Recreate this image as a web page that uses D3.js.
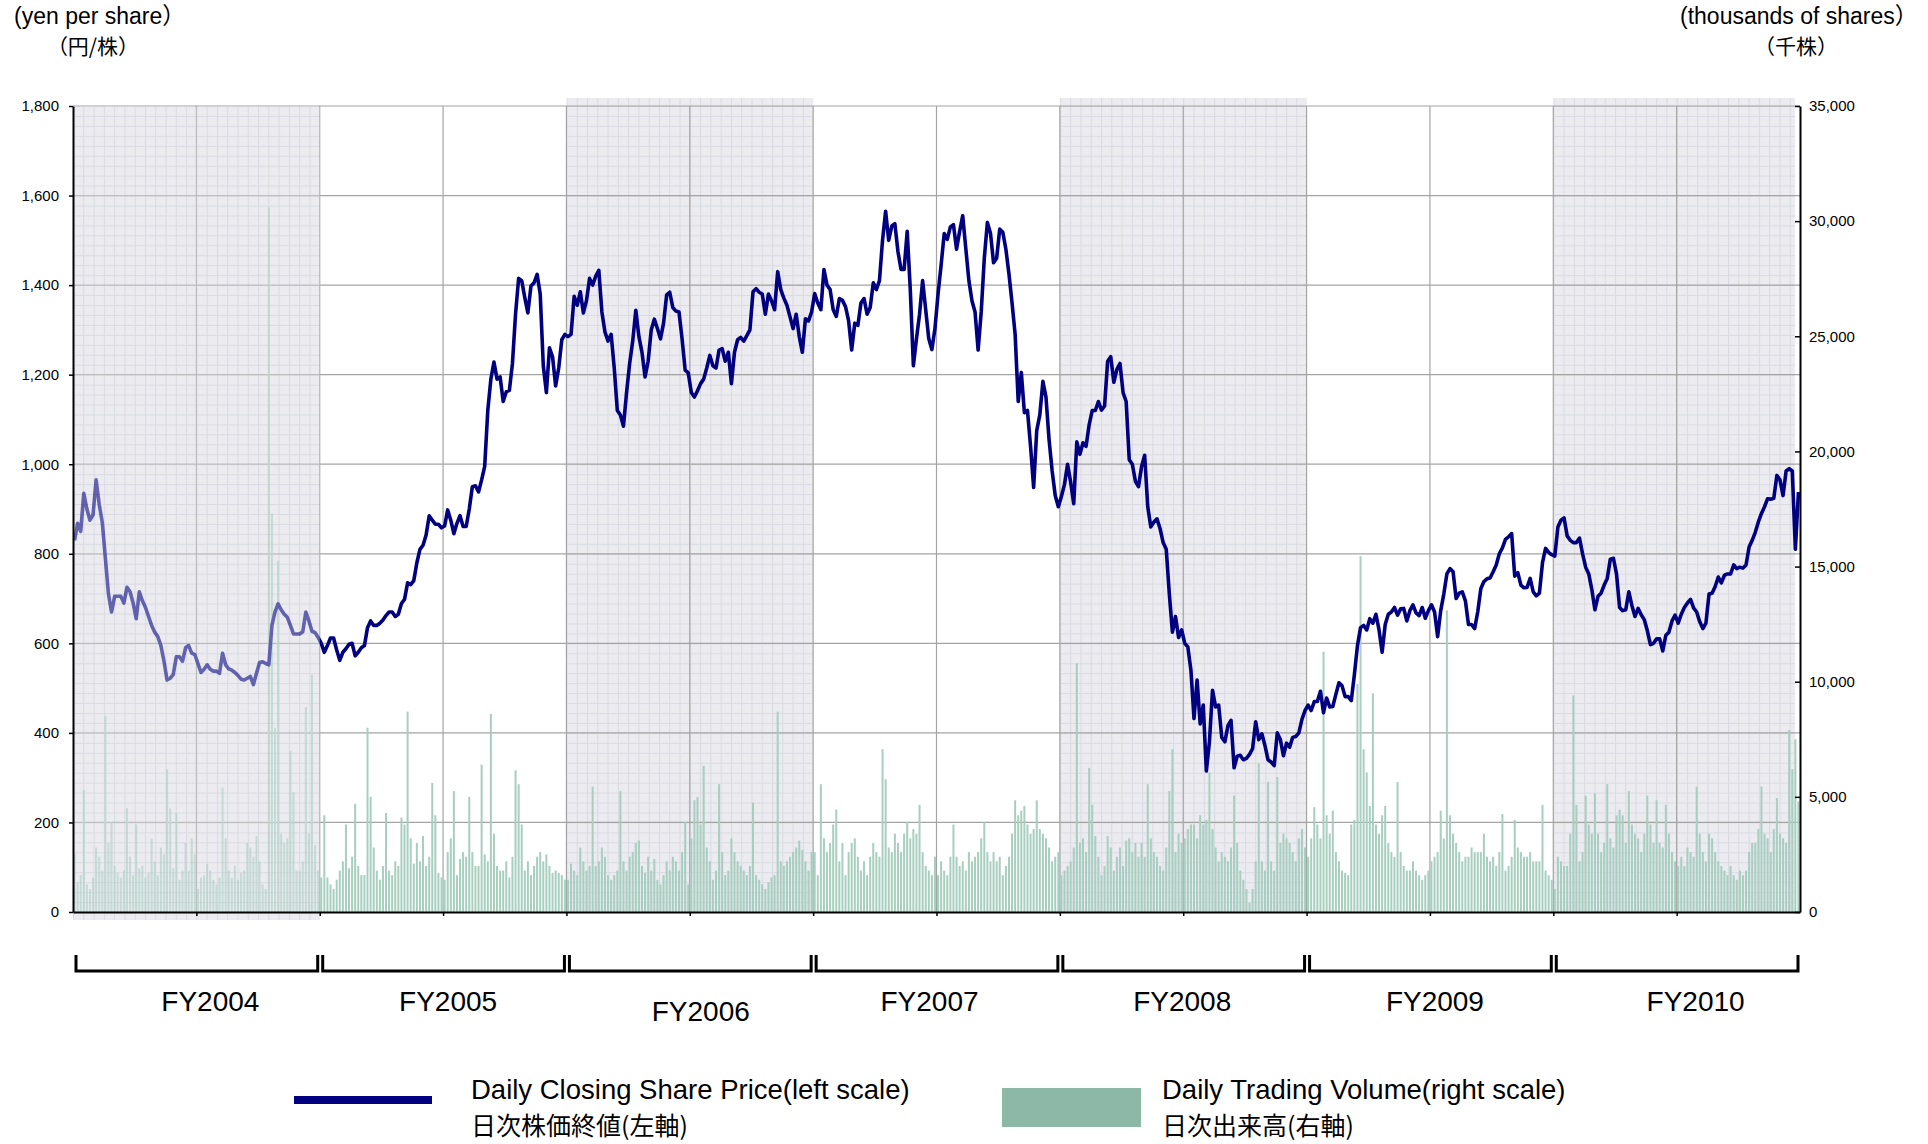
<!DOCTYPE html>
<html>
<head>
<meta charset="utf-8">
<script src="https://cdn.jsdelivr.net/npm/d3@7"></script>
<style>
body{margin:0;background:#fff;}
svg text{font-family:"Liberation Sans",Arial,"Noto Sans CJK JP",sans-serif;fill:#000;}
svg text.jp{font-family:"Noto Sans CJK JP","Liberation Sans",sans-serif;}
</style>
</head>
<body>
<svg id="chart" width="1928" height="1144"></svg>
<script>
// fiscal years on the x axis (April - March)
var fiscalYears = [2004, 2005, 2006, 2007, 2008, 2009, 2010];
var fyLabels = ["FY2004", "FY2005", "FY2006", "FY2007", "FY2008", "FY2009", "FY2010"];
var shadedYears = [2004, 2006, 2008, 2010];
var priceTicks = [0, 200, 400, 600, 800, 1000, 1200, 1400, 1600, 1800];
var volumeTicks = [0, 5000, 10000, 15000, 20000, 25000, 30000, 35000];

// closing price (yen), 80 readings per fiscal year
var price2004 = [830,868,850,935,900,875,887,965,910,870, 790,710,670,705,705,705,690,725,715,690,
  655,715,695,680,660,640,625,615,595,560, 518,522,530,570,570,560,590,595,578,575,
  555,535,542,552,542,538,538,533,578,552, 543,540,535,528,520,518,522,526,508,533,
  557,559,555,552,640,670,688,675,665,658, 640,621,621,621,626,670,650,627,624,613];
var price2005 = [600,580,595,612,612,585,562,580,588,598, 600,572,580,590,595,635,650,640,640,645,
  652,662,670,670,660,665,689,698,735,731, 740,780,810,819,842,885,875,866,866,858,
  862,898,875,845,868,885,861,861,900,950, 952,938,965,995,1120,1190,1228,1190,1195,1140,
  1162,1165,1225,1335,1415,1410,1372,1338,1398,1405, 1424,1380,1220,1160,1260,1240,1175,1215,1278,1290];
var price2006 = [1285,1290,1375,1355,1385,1338,1365,1415,1400,1420, 1433,1340,1295,1275,1290,1215,1120,1110,1085,1160,
  1225,1275,1344,1285,1250,1195,1230,1300,1324,1303, 1280,1315,1378,1384,1350,1342,1340,1280,1210,1204,
  1160,1150,1164,1180,1190,1215,1243,1220,1215,1255, 1258,1230,1250,1180,1250,1278,1283,1275,1287,1300,
  1385,1392,1384,1380,1335,1380,1365,1345,1430,1390, 1371,1355,1329,1303,1335,1285,1250,1325,1320,1340];
var price2007 = [1381,1360,1345,1435,1400,1390,1345,1330,1370,1366, 1352,1320,1255,1315,1310,1360,1370,1335,1350,1405,
  1390,1410,1500,1565,1500,1532,1537,1475,1435,1435, 1520,1390,1220,1280,1335,1410,1345,1280,1256,1303,
  1380,1445,1515,1502,1530,1535,1480,1520,1555,1482, 1410,1365,1340,1255,1340,1460,1540,1516,1450,1460,
  1525,1518,1480,1425,1360,1290,1140,1205,1115,1120, 1040,948,1075,1110,1185,1150,1055,985,930,905];
var price2008 = [928,955,1000,960,912,1050,1022,1048,1040,1088, 1120,1120,1140,1121,1130,1230,1240,1183,1212,1225,
  1160,1140,1010,1000,962,950,995,1020,905,860, 871,878,856,825,810,710,625,660,613,630,
  600,592,540,432,518,420,462,315,380,495, 458,462,390,380,416,428,322,348,350,340,
  343,352,365,425,385,398,372,340,335,327, 400,385,349,377,368,390,392,400,430,450];
var price2009 = [462,450,470,470,493,445,478,458,459,486, 512,505,481,481,472,530,595,635,640,630,
  655,645,665,630,580,642,665,670,680,663, 677,678,650,673,686,668,662,680,656,673,
  686,670,615,673,710,755,767,760,700,712, 715,695,642,642,633,670,722,738,744,746,
  760,775,800,813,832,838,845,750,758,730, 724,725,745,715,706,712,780,812,803,798];
var price2010 = [795,860,875,880,840,830,825,825,835,800, 770,755,720,675,705,712,730,745,788,790,
  755,680,673,675,715,684,660,678,664,653, 628,597,600,610,610,583,618,625,650,663,
  645,665,680,690,698,679,670,648,633,645, 710,712,727,748,735,752,755,755,775,767,
  770,768,775,815,830,848,871,890,905,923, 922,924,975,965,930,985,990,985,810,938];

// trading volume (thousands of shares), 80 readings per fiscal year
var volume2004 = [2500,1300,1600,5300,1200,1000,1500,2800,2400,1800, 8500,3000,3900,2000,1700,1500,1800,4500,2400,1600,
  3800,1900,2000,1500,1700,3200,2200,1600,2800,2500, 6200,4500,1900,4300,1400,1800,3000,1800,3200,2500,
  1000,1500,1600,2100,1800,1400,1200,1500,5400,3200, 1800,1500,2000,1400,1700,1800,3000,2800,2400,3300,
  2200,1200,1000,30600,17300,8000,15250,3400,3000,3200, 7000,5200,1800,1800,2200,8900,3400,10300,2900,1800];
var volume2005 = [1500,4200,1500,1200,1000,1400,1800,2200,3800,1900, 2400,4700,2000,1600,1600,8000,5000,2800,1800,1400,
  2000,4300,1800,1600,2200,2000,4100,3800,8700,3200, 2100,3000,2200,3300,2000,2400,5600,4200,1700,1500,
  1400,2600,3200,5250,1600,2300,2600,2400,5000,2600, 2000,2000,6400,2500,2200,8600,3400,2000,1800,1800,
  2200,1500,2400,6150,5550,3800,1800,2200,1600,2000, 2400,2600,2200,2500,2000,1700,1800,1700,1600,1400];
var volume2006 = [1400,2100,1800,1600,2800,2200,1800,2000,5450,2000, 2200,2800,2400,1600,1400,1600,1800,5250,2200,1800,
  2400,2600,3000,3100,2000,1700,2400,1800,2300,1400, 1200,1600,2200,1800,2400,2200,1800,2600,3900,1200,
  3200,4850,5000,3800,6350,2800,2200,1400,1800,5550, 2600,1600,1800,3200,2600,2200,2000,1800,1600,2000,
  4750,1600,1400,1200,1000,1300,1500,1600,8700,2200, 2000,2200,2400,2600,2800,3100,2700,2200,1800,2600];
var volume2007 = [2600,1600,5550,3200,2600,3000,3800,4450,2200,3000, 1600,2600,3000,3200,2400,1800,2200,1600,2400,3000,
  2600,2400,7070,5760,2800,2600,3400,3000,2600,3400, 3900,3200,3600,3400,4650,2600,2000,1800,1600,2400,
  1600,2200,1800,1600,2400,3800,2400,2000,2200,1800, 2600,2200,2400,2600,3200,3900,2600,2200,2600,2200,
  2400,1600,2000,2400,3400,4850,4200,4400,4600,3800, 3400,3600,4850,3600,3400,3200,2800,2200,2400,2600];
var volume2008 = [1600,1800,2000,2200,2800,10800,3000,3200,2600,6260, 4650,3300,2400,1600,2000,3300,2800,1800,2400,2800,
  2000,3100,3200,2600,3000,2400,3000,2400,5550,3200, 2600,2400,2000,1800,2800,5250,7070,2600,3400,3000,
  3200,3600,3800,3800,3200,4200,3800,4000,6060,3600, 2800,2200,2600,2400,2200,2800,5050,3000,1800,1400,
  1000,400,1000,2200,6460,2200,1800,5650,2200,1800, 5860,3000,3400,3200,3000,2600,2200,3200,3600,2800];
var volume2009 = [2400,3200,4550,3800,3200,11300,4200,3400,4400,2600, 2200,1800,1700,1600,3800,4000,9900,15450,7070,6060,
  4600,9500,3800,3400,4200,4600,3000,2600,2400,5650, 2600,2000,1800,1800,2200,1800,1600,1400,1600,1800,
  2200,2400,2600,4400,3200,13100,4200,3400,3000,2600, 2200,2400,2400,2800,2600,2600,2600,3400,2400,2200,
  2400,2000,2600,4250,1800,2000,2400,4000,2800,2600, 2400,2400,2600,2200,2200,2200,4650,1800,1600,1400];
var volume2010 = [1000,2400,2200,2000,2000,3400,9400,4650,2200,2600, 5050,3800,3400,5150,3400,2600,3000,5550,3200,2800,
  4200,4450,4200,3000,5250,3800,3400,3200,2600,3400, 5050,3800,3000,4850,3000,2800,4650,3400,2600,2200,
  2000,2400,2000,2800,2600,2400,5450,3400,2600,2200, 3400,3200,2600,2200,2000,1800,1600,2000,1600,1400,
  1800,1600,1800,2600,3000,3000,3600,5450,3400,3200, 2600,3600,4950,3400,3200,3000,7900,6200,7500,4800];

var priceByYear = {2004: price2004, 2005: price2005, 2006: price2006, 2007: price2007,
  2008: price2008, 2009: price2009, 2010: price2010};
var volumeByYear = {2004: volume2004, 2005: volume2005, 2006: volume2006, 2007: volume2007,
  2008: volume2008, 2009: volume2009, 2010: volume2010};

var plot = {left: 73, right: 1800, top: 106, bottom: 912};
var navy = "#000080";
var barColor = "#a7cebf";

var svg = d3.select("#chart");

var x = d3.scaleLinear().domain([2004, 2011]).range([plot.left, plot.right]);
var yPrice = d3.scaleLinear().domain([0, 1800]).range([plot.bottom, plot.top]);
var yVol = d3.scaleLinear().domain([0, 35000]).range([plot.bottom, plot.top]);

function toPoints(byYear) {
  var pts = [];
  fiscalYears.forEach(function(fy) {
    var vals = byYear[fy];
    vals.forEach(function(v, k) {
      pts.push({t: fy + (k + 0.5) / vals.length, v: v});
    });
  });
  return pts;
}
var pricePts = toPoints(priceByYear);
var volumePts = toPoints(volumeByYear);

/* minor grid pattern used in the shaded fiscal years */
var pw = (x(2004.5) - x(2004)) / 12;
var ph = (yPrice(0) - yPrice(200)) / 9;
var defs = svg.append("defs");
var pat = defs.append("pattern")
  .attr("id", "minorGrid")
  .attr("patternUnits", "userSpaceOnUse")
  .attr("x", plot.left).attr("y", plot.top)
  .attr("width", pw).attr("height", ph);
pat.append("rect").attr("width", pw).attr("height", ph).attr("fill", "#ebebf0");
pat.append("path")
  .attr("d", "M0,0.5H" + pw + "M0.5,0V" + ph)
  .attr("stroke", "#dadae2").attr("stroke-width", 1);

/* shaded fiscal years */
svg.append("g").selectAll("rect")
  .data(shadedYears).enter()
  .append("rect")
  .attr("x", d => x(d))
  .attr("width", d => x(d + 1) - x(d) - (d === 2010 ? 5 : 0))
  .attr("y", d => d === 2004 ? plot.top + 1 : plot.top - 8)
  .attr("height", d => d === 2004 ? plot.bottom + 8 - plot.top - 1 : plot.bottom - plot.top + 8)
  .attr("fill", "url(#minorGrid)");

/* major grid */
var grid = svg.append("g").attr("stroke", "#a4a4a4").attr("stroke-width", 1.2);
grid.selectAll(".h").data(priceTicks.filter(d => d > 0)).enter()
  .append("line")
  .attr("x1", plot.left).attr("x2", plot.right)
  .attr("y1", d => yPrice(d)).attr("y2", d => yPrice(d));
var halfYears = d3.range(1, 14).map(i => 2004 + i / 2);
grid.selectAll(".v").data(halfYears).enter()
  .append("line")
  .attr("x1", d => x(d)).attr("x2", d => x(d))
  .attr("y1", plot.top).attr("y2", plot.bottom);

/* volume bars */
var barW = (x(2005) - x(2004)) / 80 * 0.65;
svg.append("g").selectAll("rect")
  .data(volumePts).enter()
  .append("rect")
  .attr("x", d => x(d.t) - barW / 2)
  .attr("width", barW)
  .attr("y", d => yVol(d.v))
  .attr("height", d => plot.bottom - yVol(d.v))
  .attr("fill", barColor);

/* price line */
var line = d3.line()
  .x(d => x(d.t))
  .y(d => yPrice(d.v));
svg.append("path")
  .datum(pricePts)
  .attr("d", line)
  .attr("fill", "none")
  .attr("stroke", navy)
  .attr("stroke-width", 3.6)
  .attr("stroke-linejoin", "round");

/* FY2004 band sits over the data */
svg.append("rect")
  .attr("x", x(2004)).attr("width", x(2005) - x(2004))
  .attr("y", plot.top + 1).attr("height", plot.bottom + 8 - plot.top - 1)
  .attr("fill", "url(#minorGrid)")
  .attr("opacity", 0.42);

/* axes */
var fmt = d3.format(",");
var leftAxis = svg.append("g")
  .attr("transform", "translate(" + plot.left + ",0)")
  .call(d3.axisLeft(yPrice).tickValues(priceTicks).tickFormat(fmt).tickSize(4).tickSizeOuter(0).tickPadding(10));
var rightAxis = svg.append("g")
  .attr("transform", "translate(" + plot.right + ",0)")
  .call(d3.axisRight(yVol).tickValues(volumeTicks).tickFormat(fmt).tickSize(-5).tickSizeOuter(0).tickPadding(9));
[leftAxis, rightAxis].forEach(function(a) {
  a.select(".domain").attr("stroke", "#000").attr("stroke-width", 2);
  a.selectAll(".tick line").attr("stroke", "#000").attr("stroke-width", 1.5);
  a.selectAll(".tick text").attr("font-size", 15).attr("font-family", null);
});
var bottomAxis = svg.append("g")
  .attr("transform", "translate(0," + plot.bottom + ")")
  .call(d3.axisBottom(x).tickValues(halfYears).tickFormat("").tickSize(4).tickSizeOuter(0));
bottomAxis.select(".domain").attr("stroke", "#000").attr("stroke-width", 2);
bottomAxis.selectAll(".tick line").attr("stroke", "#000").attr("stroke-width", 1.5);

/* fiscal year brackets */
var bracketTop = 955, bracketBottom = 971;
var labelShift = [14, 5, 11, -7, -1, 5, 19];
var labelDrop = [0, 0, 10, 0, 0, 0, 0];
var brackets = svg.append("g");
brackets.selectAll("path").data(fiscalYears).enter()
  .append("path")
  .attr("d", d => "M" + (x(d) + 3) + "," + bracketTop + "V" + bracketBottom + "H" + (x(d + 1) - 2) + "V" + bracketTop)
  .attr("fill", "none").attr("stroke", "#000").attr("stroke-width", 3);
brackets.selectAll("text").data(fiscalYears).enter()
  .append("text")
  .attr("x", (d, i) => x(d + 0.5) + labelShift[i])
  .attr("y", (d, i) => 1011 + labelDrop[i])
  .attr("text-anchor", "middle")
  .attr("font-size", 28)
  .text((d, i) => fyLabels[i]);

/* unit titles */
svg.append("text").attr("x", 14).attr("y", 24).attr("font-size", 23).text("(yen per share）");
svg.append("text").attr("class", "jp").attr("x", 93).attr("y", 54).attr("font-size", 21)
  .attr("text-anchor", "middle").text("（円/株）");
svg.append("text").attr("x", 1680).attr("y", 24).attr("font-size", 23).text("(thousands of shares）");
svg.append("text").attr("class", "jp").attr("x", 1796).attr("y", 54).attr("font-size", 21)
  .attr("text-anchor", "middle").text("（千株）");

/* legend */
var legend = svg.append("g");
legend.append("line")
  .attr("x1", 294).attr("x2", 432).attr("y1", 1100).attr("y2", 1100)
  .attr("stroke", navy).attr("stroke-width", 8);
legend.append("text").attr("x", 471).attr("y", 1099).attr("font-size", 27.5)
  .text("Daily Closing Share Price(left scale)");
legend.append("text").attr("class", "jp").attr("x", 471).attr("y", 1135).attr("font-size", 25)
  .text("日次株価終値(左軸)");
legend.append("rect")
  .attr("x", 1002).attr("y", 1088).attr("width", 139).attr("height", 39)
  .attr("fill", "#8db8a7");
legend.append("text").attr("x", 1162).attr("y", 1099).attr("font-size", 27.5)
  .text("Daily Trading Volume(right scale)");
legend.append("text").attr("class", "jp").attr("x", 1162).attr("y", 1135).attr("font-size", 25)
  .text("日次出来高(右軸)");
</script>
</body>
</html>
